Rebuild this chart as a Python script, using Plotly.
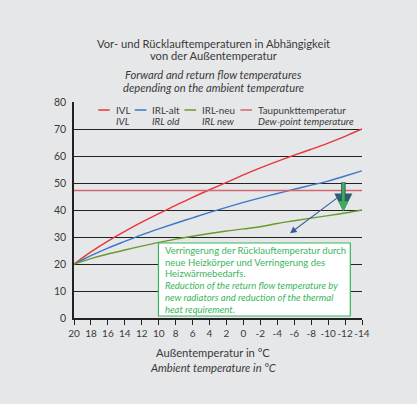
import plotly.graph_objects as go

# ---------------- data ----------------
ambient = [20, 18, 16, 14, 12, 10, 8, 6, 4, 2, 0, -2, -4, -6, -8, -10, -12, -14]
ivl =     [20, 24.5, 28.5, 32.1, 35.5, 38.7, 41.7, 44.7, 47.5, 50.2, 53.0, 55.6, 58.0, 60.3, 62.5, 64.8, 67.3, 70.0]
irl_alt = [20, 23.1, 25.9, 28.4, 30.8, 33.0, 35.1, 37.1, 39.1, 41.0, 42.8, 44.5, 46.1, 47.7, 49.2, 50.7, 52.6, 54.5]
irl_neu = [20, 22.0, 23.7, 25.2, 26.6, 28.0, 29.2, 30.3, 31.3, 32.2, 33.0, 33.8, 35.0, 36.0, 37.0, 37.9, 38.9, 40.0]
dew_point = 47.2
x_ticks = [20, 18, 16, 14, 12, 10, 8, 6, 4, 2, 0, -2, -4, -6, -8, -10, -12, -14]
y_ticks = [0, 10, 20, 30, 40, 50, 60, 70, 80]

legend_de = ["IVL", "IRL-alt", "IRL-neu", "Taupunkttemperatur"]
legend_en = ["IVL", "IRL old", "IRL new", "Dew-point temperature"]

box_lines = [
    ("Verringerung der Rücklauftemperatur durch", False),
    ("neue Heizkörper und Verringerung des", False),
    ("Heizwärmebedarfs.", False),
    ("Reduction of the return flow temperature by", True),
    ("new radiators and reduction of the thermal", True),
    ("heat requirement.", True),
]

# ---------------- style ----------------
W, H = 417, 404
L, R, T, B = 73.5, 361.7, 102, 318
FONT = "Lato"
TXT = "#3a3a3a"
BG = "#e6e7e9"
C_IVL = "#e8363c"
C_ALT = "#3d78c6"
C_NEU = "#6b9a2c"
C_DEW = "#d4676b"
C_BOX = "#3ab55c"


def px(X):
    return (X - L) / (R - L)


def py(Y):
    return (B - Y) / (B - T)


fig = go.Figure()
fig.add_trace(go.Scatter(x=ambient, y=ivl, mode="lines", line=dict(color=C_IVL, width=1.4, shape="spline"), showlegend=False))
fig.add_trace(go.Scatter(x=ambient, y=irl_alt, mode="lines", line=dict(color=C_ALT, width=1.4, shape="spline"), showlegend=False))
fig.add_trace(go.Scatter(x=ambient, y=irl_neu, mode="lines", line=dict(color=C_NEU, width=1.4, shape="spline"), showlegend=False))
fig.add_trace(go.Scatter(x=[ambient[0], ambient[-1]], y=[dew_point, dew_point], mode="lines",
                         line=dict(color=C_DEW, width=1.6), showlegend=False))

ann = []
shapes = []

# titles
titles = [
    ("Vor- und Rücklauftemperaturen in Abhängigkeit", 43, False),
    ("von der Außentemperatur", 56, False),
    ("Forward and return flow temperatures", 74, True),
    ("depending on the ambient temperature", 88, True),
    ("Außentemperatur in °C", 352, False),
    ("Ambient temperature in °C", 367, True),
]
for t, yy, it in titles:
    ann.append(dict(text=f"<i>{t}</i>" if it else t, x=px(213), y=py(yy), xref="paper", yref="paper",
                    xanchor="center", yanchor="middle", showarrow=False,
                    font=dict(family=FONT, size=11.2, color=TXT)))

# legend
leg_x = [(97.7, 109.3, 113.3), (134.3, 146, 150), (184, 195.7, 199.3), (240, 251.7, 256)]
leg_c = [C_IVL, C_ALT, C_NEU, C_DEW]
for (x0, x1, xt), c, de, en in zip(leg_x, leg_c, legend_de, legend_en):
    shapes.append(dict(type="line", xref="paper", yref="paper", x0=px(x0), x1=px(x1), y0=py(110), y1=py(110),
                       line=dict(color=c, width=1.5)))
    ann.append(dict(text=de, x=px(xt), y=py(110), xref="paper", yref="paper", xanchor="left", yanchor="middle",
                    showarrow=False, font=dict(family=FONT, size=9.8, color=TXT)))
    ann.append(dict(text=f"<i>{en}</i>", x=px(xt), y=py(121), xref="paper", yref="paper", xanchor="left",
                    yanchor="middle", showarrow=False, font=dict(family=FONT, size=9.8, color=TXT)))

# green arrow (outline + fill)
for col, wd in (("#2d5f66", 4.5), ("#3aae5c", 2.6)):
    ann.append(dict(x=-11.8, y=39.4, ax=-11.8, ay=50.8, xref="x", yref="y", axref="x", ayref="y",
                    showarrow=True, arrowhead=2, arrowsize=0.8, arrowwidth=wd, arrowcolor=col, text=""))
# blue arrow
ann.append(dict(x=-5.5, y=31.4, ax=-11.8, ay=46.2, xref="x", yref="y", axref="x", ayref="y",
                showarrow=True, arrowhead=2, arrowsize=1.2, arrowwidth=1.1, arrowcolor="#3560a0", text=""))

# info box
shapes.append(dict(type="rect", xref="paper", yref="paper", x0=px(158), x1=px(350), y0=py(316), y1=py(243),
                   fillcolor="white", line=dict(color=C_BOX, width=1.2), layer="above"))
for i, (t, it) in enumerate(box_lines):
    ann.append(dict(text=f"<i>{t}</i>" if it else t, x=px(162.5), y=py(250.5 + i * 11.7), xref="paper", yref="paper",
                    xanchor="left", yanchor="middle", align="left", showarrow=False,
                    font=dict(family=FONT, size=9.5, color=C_BOX)))

fig.update_layout(
    width=W, height=H,
    margin=dict(l=L, r=W - R, t=T, b=H - B, pad=0),
    paper_bgcolor=BG, plot_bgcolor=BG,
    showlegend=False,
    xaxis=dict(range=[20, -14], tickmode="array", tickvals=x_ticks, ticktext=[str(v) for v in x_ticks],
               tickangle=0,
               showgrid=False, zeroline=False, showline=True, linecolor="#222", linewidth=1.5,
               ticks="outside", ticklen=5, tickwidth=1.3, tickcolor="#222",
               tickfont=dict(family=FONT, size=10, color=TXT)),
    yaxis=dict(range=[0, 80], tickmode="array", tickvals=y_ticks, ticktext=[str(v) for v in y_ticks],
               showgrid=True, gridcolor="#222", gridwidth=1.3, zeroline=False, showline=True,
               linecolor="#222", linewidth=1.5, ticks="", ticklabelstandoff=4,
               tickfont=dict(family=FONT, size=10.5, color=TXT)),
    annotations=ann, shapes=shapes,
)
fig.write_html("out.html", config={"displayModeBar": False},
               post_script="document.body.style.margin='0';document.body.style.background='%s';" % BG)
